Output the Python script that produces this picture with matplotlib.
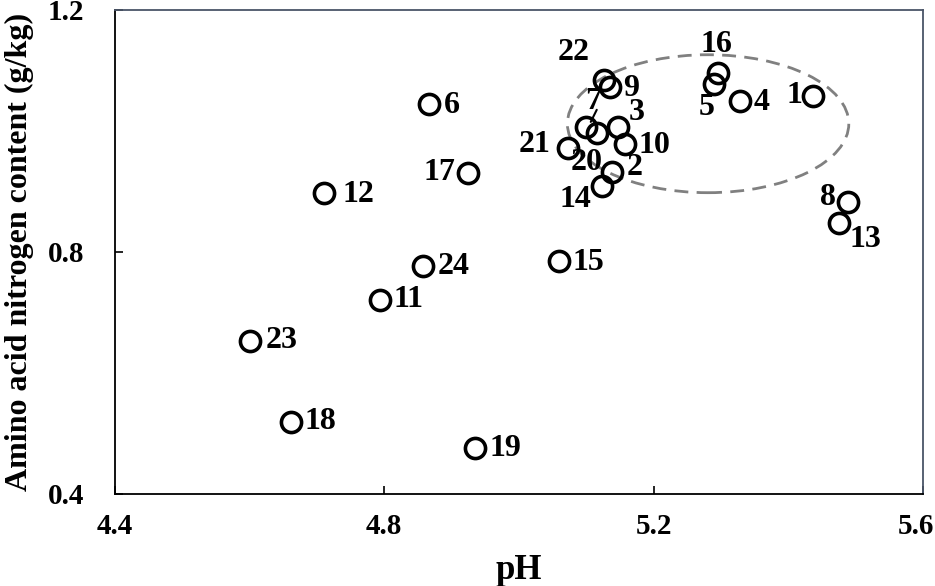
import matplotlib.pyplot as plt
from matplotlib.patches import Ellipse
from matplotlib.transforms import ScaledTranslation

plt.rcParams['font.family'] = ['Liberation Serif', 'DejaVu Serif']
plt.rcParams['font.weight'] = 'bold'

# sample ids, pH and amino acid nitrogen content (g/kg)
ids = [1, 2, 3, 4, 5, 6, 7, 8, 9, 10, 11, 12,
       13, 14, 15, 16, 17, 18, 19, 20, 21, 22, 23, 24]
ph = [5.437, 5.139, 5.147, 5.329, 5.290, 4.867, 5.099, 5.489, 5.136, 5.157, 4.793, 4.711,
      5.476, 5.123, 5.059, 5.296, 4.924, 4.661, 4.935, 5.116, 5.073, 5.126, 4.600, 4.858]
ann = [1.058, 0.932, 1.007, 1.050, 1.078, 1.045, 1.007, 0.883, 1.073, 0.978, 0.721, 0.898,
       0.848, 0.909, 0.785, 1.096, 0.931, 0.519, 0.476, 0.997, 0.972, 1.084, 0.653, 0.777]

# label offsets in pixels (dx, dy), screen y up
offsets = {1: (-11, 0, 'right'), 2: (14, 5, 'left'), 3: (11, 14, 'left'),
           4: (13, -2, 'left'), 5: (0, -24, 'right'), 6: (14, -2, 'left'),
           7: (8, 25, 'center'), 8: (-12, 4, 'right'), 9: (13, -2, 'left'),
           10: (14, -1, 'left'), 11: (14, 0, 'left'), 12: (18, -2, 'left'),
           13: (10, -17, 'left'), 14: (-10, -13, 'right'), 15: (14, -1, 'left'),
           16: (-2, 28, 'center'), 17: (-12, 0, 'right'), 18: (14, 0, 'left'),
           19: (14, 0, 'left'), 20: (-10, -30, 'center'), 21: (-18, 3, 'right'),
           22: (-14, 28, 'right'), 23: (16, 0, 'left'), 24: (14, -1, 'left')}

fig = plt.figure(figsize=(9.35, 5.86), dpi=100)
ax = fig.add_axes([0.123, 0.157, 0.864, 0.826])

ax.plot(ph, ann, 'o', ms=14.5, mfc='none', mec='black', mew=2.6, zorder=3)

for i, x, y in zip(ids, ph, ann):
    dx, dy, ha = offsets[i]
    ax.annotate(str(i), (x, y), xytext=(dx, dy), textcoords='offset pixels',
                ha=ha, va='center', fontsize=23, fontweight='bold')

# leader line from label 7 to its point
ax.annotate('', xy=(5.1067, 1.015), xytext=(5.1156, 1.035),
            arrowprops=dict(arrowstyle='-', color='black', lw=1.5,
                            shrinkA=0, shrinkB=0))

ax.add_patch(Ellipse((5.281, 1.012), 0.418, 0.228, fill=False,
                     ls=(0, (5, 3)), lw=2, ec='#808080'))

ax.set_xlim(4.4, 5.6)
ax.set_ylim(0.4, 1.2)
ax.set_xticks([4.4, 4.8, 5.2, 5.6])
ax.set_yticks([0.4, 0.8, 1.2])
ax.tick_params(direction='in', length=6, width=1.2, labelsize=21)
ax.tick_params(axis='x', pad=14)
ax.tick_params(axis='y', pad=22)
for lab in ax.get_xticklabels() + ax.get_yticklabels():
    lab.set_fontweight('bold')
last = ax.get_xticklabels()[-1]
last.set_transform(last.get_transform() + ScaledTranslation(-7 / 100, 0, fig.dpi_scale_trans))

for s in ['left', 'bottom']:
    ax.spines[s].set_color('black')
    ax.spines[s].set_linewidth(1.3)
for s in ['top', 'right']:
    ax.spines[s].set_color('#4a5568')
    ax.spines[s].set_linewidth(1.3)

ax.set_xlabel('pH', fontsize=25, fontweight='bold', labelpad=10)
ax.set_ylabel('Amino acid nitrogen content (g/kg)', fontsize=23, fontweight='bold', labelpad=10)

fig.savefig('out.png', dpi=100)
